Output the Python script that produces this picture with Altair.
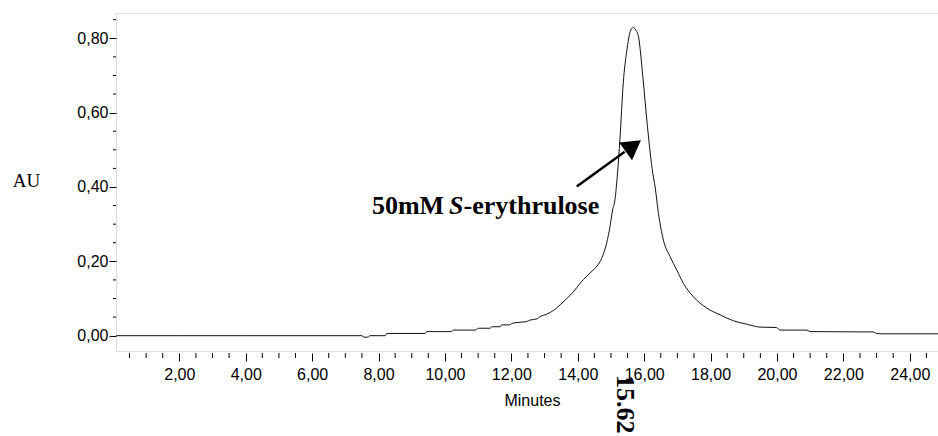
import altair as alt
import pandas as pd

# ---- chromatogram trace (minutes, AU) ----
minutes = [0.10, 2.0, 4.0, 6.0, 7.50, 7.56, 7.69, 7.74, 8.20, 8.25, 9.40, 9.45, 10.20, 10.25,
           10.91, 11.01, 11.36, 11.41, 11.66, 11.71, 11.96, 12.01, 12.26, 12.46, 12.56, 12.77,
           12.86, 13.07, 13.27, 13.47, 13.67, 13.87, 14.07, 14.27, 14.47, 14.62, 14.72, 14.87,
           14.97, 15.05, 15.12, 15.20, 15.27, 15.37, 15.48, 15.58, 15.67, 15.75, 15.83, 15.96,
           16.10, 16.26, 16.33, 16.43, 16.58, 16.78, 16.98, 17.18, 17.48, 17.89, 18.29, 18.69,
           19.09, 19.49, 19.99, 20.09, 20.90, 21.00, 22.90, 22.95, 23.00, 23.11, 24.85]
au = [0.000, 0.000, 0.000, 0.000, 0.000, -0.004, -0.004, 0.000, 0.000, 0.006, 0.006, 0.011, 0.011, 0.015,
      0.015, 0.020, 0.020, 0.024, 0.024, 0.029, 0.029, 0.033, 0.036, 0.038, 0.042, 0.045,
      0.051, 0.058, 0.068, 0.083, 0.100, 0.118, 0.141, 0.160, 0.177, 0.192, 0.208, 0.249,
      0.293, 0.338, 0.365, 0.440, 0.527, 0.679, 0.768, 0.818, 0.829, 0.822, 0.804, 0.697,
      0.562, 0.437, 0.400, 0.329, 0.257, 0.213, 0.177, 0.141, 0.105, 0.074, 0.056, 0.040,
      0.031, 0.023, 0.022, 0.015, 0.015, 0.011, 0.010, 0.008, 0.006, 0.005, 0.005]

# ---- axes ----
x_major = [2, 4, 6, 8, 10, 12, 14, 16, 18, 20, 22, 24]
x_minor = [v / 2 for v in range(1, 50) if v % 4 != 0]
y_major = [0.0, 0.2, 0.4, 0.6, 0.8]
y_minor = [0.05, 0.10, 0.15, 0.25, 0.30, 0.35, 0.45, 0.50, 0.55, 0.65, 0.70, 0.75, 0.85]
x_domain = [0.093, 24.85]
y_domain = [-0.0412, 0.868]

# ---- annotations ----
peak_label = ["15.62"]
peak_time = [15.62]
ann_parts = ["50mM", "S", "-erythrulose"]
ann_x = [7.80, 10.12, 10.56]
ann_y = [0.327, 0.327, 0.327]
ann_italic = [False, True, False]
arrow_start = (13.97, 0.401)
arrow_base = (15.415, 0.495)
arrow_head = (15.672, 0.5107)

W, H = 822, 338
SANS = "Liberation Sans, Arial, sans-serif"
SERIF = "Liberation Serif, Times New Roman, serif"
fmt = "replace(format(datum.value, '.2f'), '.', ',')"

xs = alt.Scale(domain=x_domain, nice=False, zero=False)
ys = alt.Scale(domain=y_domain, nice=False, zero=False)

trace = pd.DataFrame({"t": minutes, "v": au})

line = alt.Chart(trace).mark_line(color="#111111", strokeWidth=1, interpolate="monotone").encode(
    x=alt.X("t:Q", scale=xs,
            axis=alt.Axis(values=x_major, labelExpr=fmt, title="Minutes", domain=False,
                          grid=False, tickSize=8, offset=2, tickColor="black", labelColor="black",
                          labelFont=SANS, labelFontSize=16, labelPadding=5,
                          titleFont=SANS, titleFontSize=16, titleFontWeight="normal",
                          titleColor="black", titlePadding=10, titleX=416)),
    y=alt.Y("v:Q", scale=ys,
            axis=alt.Axis(values=y_major, labelExpr=fmt, title="AU", domain=False, grid=False,
                          tickSize=7, tickColor="black", labelColor="black", labelFont=SANS,
                          labelFontSize=16, labelPadding=1, titleAngle=0, titleFont=SERIF,
                          titleFontSize=19, titleFontWeight="normal", titleColor="black",
                          titleX=-90, titleY=167, titleAlign="center", titleBaseline="middle")),
)

xminor = alt.Chart(pd.DataFrame({"t": x_minor})).mark_rule(color="black", strokeWidth=1).encode(
    x=alt.X("t:Q", scale=xs), y=alt.value(H + 2), y2=alt.value(H + 7))
yminor = alt.Chart(pd.DataFrame({"v": y_minor})).mark_rule(color="black", strokeWidth=1).encode(
    y=alt.Y("v:Q", scale=ys), x=alt.value(-3), x2=alt.value(0))

ann_df = pd.DataFrame({"txt": ann_parts, "t": ann_x, "v": ann_y, "it": ann_italic})
ann_base = alt.Chart(ann_df).encode(x=alt.X("t:Q", scale=xs), y=alt.Y("v:Q", scale=ys), text="txt:N")
ann_norm = ann_base.mark_text(font=SERIF, fontSize=26, fontWeight="bold", align="left",
                              baseline="alphabetic", color="black").transform_filter("!datum.it")
ann_ital = ann_base.mark_text(font=SERIF, fontSize=26, fontWeight="bold", fontStyle="italic",
                              align="left", baseline="alphabetic", color="black").transform_filter("datum.it")

arrow_line = alt.Chart(pd.DataFrame({"t": [arrow_start[0]], "v": [arrow_start[1]],
                                     "t2": [arrow_base[0]], "v2": [arrow_base[1]]})).mark_rule(
    color="black", strokeWidth=2.5).encode(
    x=alt.X("t:Q", scale=xs), y=alt.Y("v:Q", scale=ys), x2="t2:Q", y2="v2:Q")
arrow_tip = alt.Chart(pd.DataFrame({"t": [arrow_head[0]], "v": [arrow_head[1]]})).mark_point(
    shape="triangle-up", size=480, filled=True, color="black", opacity=1, angle=54).encode(
    x=alt.X("t:Q", scale=xs), y=alt.Y("v:Q", scale=ys))

peak = alt.Chart(pd.DataFrame({"lab": peak_label, "t": peak_time})).mark_text(
    font=SERIF, fontSize=26, fontWeight="bold", angle=90, align="left", baseline="middle",
    dy=7, color="black").encode(
    x=alt.X("t:Q", scale=xs), y=alt.value(H + 24), text="lab:N")

chart = alt.layer(line, xminor, yminor, ann_norm, ann_ital, arrow_line, arrow_tip, peak).properties(
    width=W, height=H,
    autosize=alt.AutoSizeParams(type="none"),
    padding={"left": 116, "top": 13, "right": 0, "bottom": 85},
).configure_view(stroke="black", strokeWidth=1.4).configure(background="white")

chart.save("out.html", embed_options={"renderer": "svg", "actions": False})
